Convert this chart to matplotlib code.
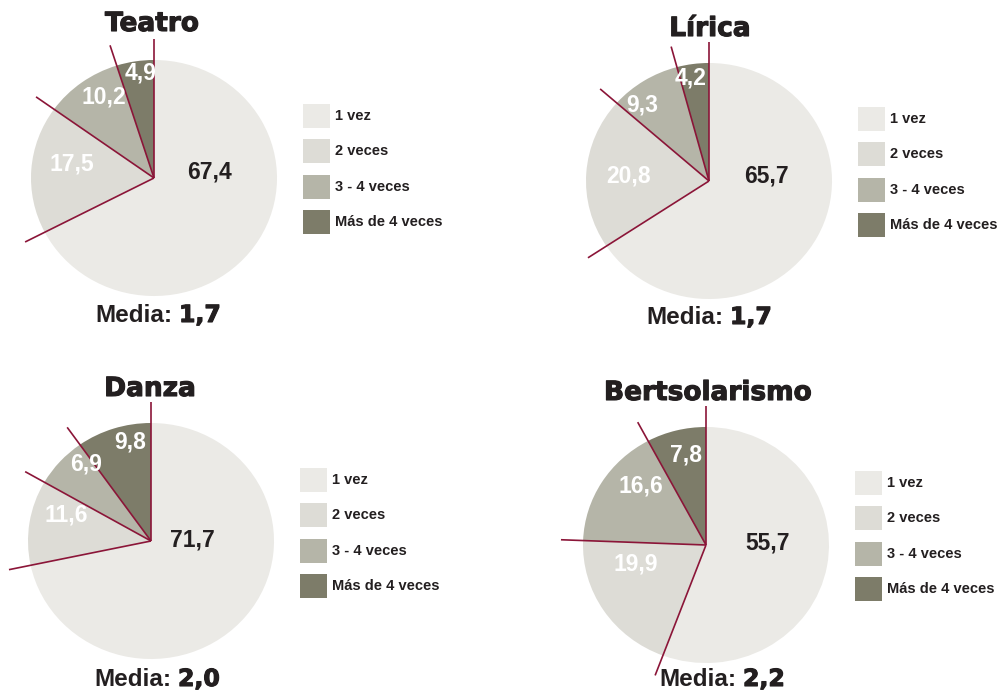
import numpy as np
import matplotlib
matplotlib.use("Agg")
import matplotlib.pyplot as plt
from matplotlib.patches import Rectangle
import matplotlib.patheffects as pe

W, H = 1002, 693

# ---- data ----
titles = ["Teatro", "Lírica", "Danza", "Bertsolarismo"]
categories = ["1 vez", "2 veces", "3 - 4 veces", "Más de 4 veces"]
teatro = [67.4, 17.5, 10.2, 4.9]
lirica = [65.7, 20.8, 9.3, 4.2]
danza = [71.7, 11.6, 6.9, 9.8]
bertsolarismo = [55.7, 19.9, 16.6, 7.8]
series = [teatro, lirica, danza, bertsolarismo]
medias = ["1,7", "1,7", "2,0", "2,2"]

# ---- style / layout (pixels) ----
COLORS = ["#ebeae6", "#dddcd6", "#b5b5a8", "#7d7c69"]
LINE = "#8b1538"
DARK = "#231f20"
THICK = [pe.withStroke(linewidth=0.8, foreground=DARK)]   # fake a black weight
RX, RY = 123, 118
centers = [(154, 178), (709, 181), (151, 541), (706, 545)]
title_pos = [(152, 24), (710, 29), (150, 389), (708, 393)]
media_split = [(176, 315), (727, 317), (175, 679), (740, 679)]
legend_pos = [(303, 104), (858, 107), (300, 468), (855, 471)]
# label centres in units of the pie radius
label_xy = [
    [(0.45, 0.05), (-0.67, 0.12), (-0.41, 0.69), (-0.11, 0.89)],
    [(0.47, 0.04), (-0.65, 0.04), (-0.54, 0.64), (-0.15, 0.87)],
    [(0.34, 0.01), (-0.69, 0.22), (-0.53, 0.65), (-0.17, 0.84)],
    [(0.50, 0.02), (-0.57, -0.16), (-0.53, 0.50), (-0.16, 0.76)],
]
label_colors = [DARK, "white", "white", "white"]
LINE_LEN = 1.18

fig = plt.figure(figsize=(W / 100, H / 100), dpi=100)
fig.patch.set_facecolor("white")

bg = fig.add_axes([0, 0, 1, 1])
bg.set_xlim(0, W); bg.set_ylim(H, 0); bg.axis("off")

for k, vals in enumerate(series):
    cx, cy = centers[k]
    ax = fig.add_axes([(cx - RX) / W, (H - cy - RY) / H, 2 * RX / W, 2 * RY / H])
    ax.pie(vals, colors=COLORS, startangle=90, counterclock=False, radius=1,
           wedgeprops=dict(linewidth=0))
    ax.set_aspect("auto")
    ax.set_xlim(-1, 1); ax.set_ylim(-1, 1); ax.axis("off")

    # slice separators, running past the rim
    cum = np.concatenate([[0], np.cumsum(vals)[:-1]])
    for c in cum:
        th = np.deg2rad(90 - 360 * c / 100)
        ax.plot([0, LINE_LEN * np.cos(th)], [0, LINE_LEN * np.sin(th)],
                color=LINE, lw=1.2, clip_on=False, solid_capstyle="butt")

    for v, (lx, ly), col in zip(vals, label_xy[k], label_colors):
        ax.text(lx, ly, f"{v:.1f}".replace(".", ","), ha="center", va="center",
                fontsize=16.5, fontweight="bold", family="Liberation Sans", color=col)

    # title
    tx, ty = title_pos[k]
    bg.text(tx, ty, titles[k], ha="center", va="center", fontsize=19,
            fontweight="bold", family="DejaVu Sans", color=DARK, path_effects=THICK)

    # media
    mx, my = media_split[k]
    bg.text(mx - 3, my, "Media:", ha="right", va="center", fontsize=17.5,
            fontweight="bold", family="Liberation Sans", color=DARK)
    bg.text(mx + 3, my, medias[k], ha="left", va="center", fontsize=17,
            fontweight="bold", family="DejaVu Sans", color=DARK, path_effects=THICK)

    # legend
    lx0, ly0 = legend_pos[k]
    for i, (cat, col) in enumerate(zip(categories, COLORS)):
        y = ly0 + i * 35.3
        bg.add_patch(Rectangle((lx0, y), 27, 24, facecolor=col, edgecolor="none"))
        bg.text(lx0 + 32, y + 12, cat, ha="left", va="center", fontsize=10.5,
                fontweight="bold", family="Liberation Sans", color=DARK)

fig.savefig("out.png", dpi=100)
